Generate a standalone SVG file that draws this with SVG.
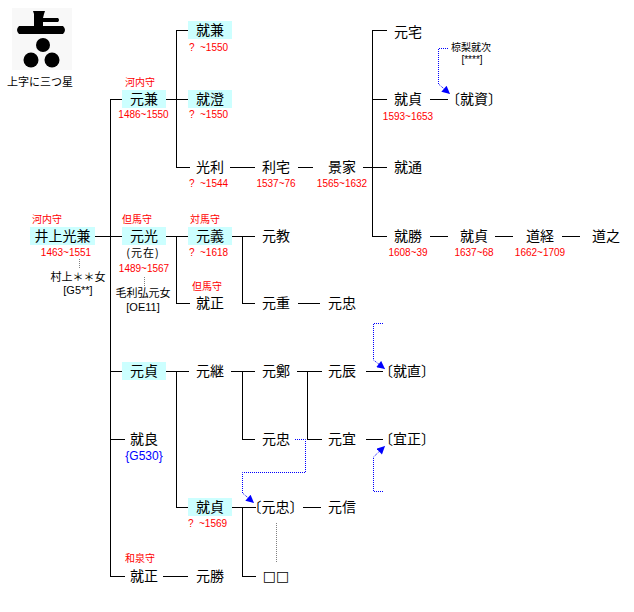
<svg xmlns="http://www.w3.org/2000/svg" width="634" height="612" viewBox="0 0 634 612">
<defs>
<style>
.n{font-family:"Noto Sans CJK JP","Noto Sans CJK SC",sans-serif;font-size:14px;text-anchor:middle;fill:#000}
.d{font-family:"Liberation Sans",Arial,sans-serif;font-size:10px;fill:#f00;text-anchor:middle}
.ds{font-family:"Liberation Sans",Arial,sans-serif;font-size:10px;fill:#f00}
.t{font-family:"Noto Sans CJK JP",sans-serif;font-size:10px;fill:#f00}
.s{font-family:"Noto Sans CJK JP",sans-serif;font-size:11px;fill:#000;text-anchor:middle}
.sm{font-family:"Liberation Sans",Arial,sans-serif;font-size:11px;fill:#000;text-anchor:middle}
.b{fill:#ccffff}
.ln{stroke:#000;stroke-width:1;fill:none}
.bd{stroke:#0000ff;stroke-width:1;stroke-dasharray:1 1;fill:none}
.gd{stroke:#808080;stroke-width:1;stroke-dasharray:1 1;fill:none}
</style>
<marker id="arr" viewBox="0 0 10 10" refX="10" refY="5" markerWidth="9" markerHeight="8" markerUnits="userSpaceOnUse" orient="auto">
<path d="M0,0 L10,5 L0,10 z" fill="#0000ff"/>
</marker>
</defs>
<rect width="634" height="612" fill="#fff"/>

<g id="crest">
<rect x="12" y="8" width="60" height="62" fill="#f8f8f8"/>
<path d="M33,11 L45,11 L44,14 L43,18 L58,18 Q60,20 58,22 L43,22 L43,26 L63,26 Q67,30 63,34 L19,34 Q15,30 19,26 L34,26 L34,14 Z" fill="#000"/>
<circle cx="43" cy="45" r="7" fill="#000"/>
<circle cx="31" cy="60" r="7.5" fill="#000"/>
<circle cx="52" cy="60" r="7.5" fill="#000"/>
<text x="40" y="86" class="s">上字に三つ星</text>
</g>

<g id="connectors">
<path class="ln" d="M110.5,99 V576"/>
<path class="ln" d="M176.5,30 V167 M176.5,236 V303 M176.5,371 V507"/>
<path class="ln" d="M242.5,236 V303 M242.5,371 V439 M242.5,507 V576"/>
<path class="ln" d="M307.5,371 V439"/>
<path class="ln" d="M372.5,30 V236"/>
<path class="ln" d="M176,30.5 H188 M372,30.5 H387"/>
<path class="ln" d="M110,99.5 H122 M166,99.5 H188 M372,99.5 H387 M430,99.5 H448"/>
<path class="ln" d="M176,167.5 H190 M230,167.5 H255 M298,167.5 H313 M363,167.5 H387"/>
<path class="ln" d="M95,236.5 H122 M166,236.5 H188 M232,236.5 H255 M372,236.5 H387 M430,236.5 H448 M495,236.5 H513 M562,236.5 H580"/>
<path class="ln" d="M176,303.5 H190 M242,303.5 H255 M298,303.5 H320"/>
<path class="ln" d="M110,371.5 H122 M166,371.5 H189 M231,371.5 H255 M297,371.5 H322 M366,371.5 H383"/>
<path class="ln" d="M110,439.5 H125 M242,439.5 H255 M307,439.5 H322 M366,439.5 H383"/>
<path class="ln" d="M176,507.5 H188 M232,507.5 H256 M303,507.5 H321"/>
<path class="ln" d="M110,576.5 H125 M163,576.5 H188 M242,576.5 H256"/>
<path class="gd" d="M79.5,259 V268 M144.5,277 V286 M276.5,523 V562"/>
<path class="bd" d="M448,48.5 H438.5 V84 L450,94" marker-end="url(#arr)"/>
<path class="bd" d="M383,323.5 H373.5 V360 L385,369" marker-end="url(#arr)"/>
<path class="bd" d="M383,491.5 H373.5 V457 L385,446" marker-end="url(#arr)"/>
<path class="bd" d="M295,439.5 H305.5 V472.5 H242.5 V493 L254,503" marker-end="url(#arr)"/>
</g>

<g id="n-mitsukane">
<rect class="b" x="30" y="227" width="65" height="18"/>
<text class="n" x="62.5" y="241">井上光兼</text>
<text class="t" x="32" y="223">河内守</text>
<text class="d" x="66" y="256">1463~1551</text>
<text class="s" x="78" y="281">村上＊＊女</text>
<text class="sm" x="78" y="294">[G5**]</text>
</g>
<g id="n-motokane">
<rect class="b" x="122" y="90" width="44" height="18"/>
<text class="n" x="144" y="104">元兼</text>
<text class="t" x="125" y="86">河内守</text>
<text class="d" x="143.5" y="118">1486~1550</text>
</g>
<g id="n-narikane">
<rect class="b" x="188" y="21" width="44" height="18"/>
<text class="n" x="210" y="35">就兼</text>
<text class="ds" x="189" y="51">?<tspan x="200">~1550</tspan></text>
</g>
<g id="n-narizumi">
<rect class="b" x="188" y="90" width="44" height="18"/>
<text class="n" x="210" y="104">就澄</text>
<text class="ds" x="189" y="118">?<tspan x="200">~1550</tspan></text>
</g>
<g id="n-mitsutoshi">
<text class="n" x="210" y="172">光利</text>
<text class="ds" x="189" y="187">?<tspan x="200">~1544</tspan></text>
</g>
<g id="n-toshiie">
<text class="n" x="276" y="172">利宅</text>
<text class="d" x="276" y="187">1537~76</text>
</g>
<g id="n-kageie">
<text class="n" x="342" y="172">景家</text>
<text class="d" x="342" y="187">1565~1632</text>
</g>
<g id="n-motoie">
<text class="n" x="408" y="37">元宅</text>
</g>
<g id="n-narisada1">
<text class="n" x="408" y="104">就貞</text>
<text class="d" x="408" y="120">1593~1653</text>
</g>
<g id="n-narisuke">
<text class="n" x="474" y="104">〔就資〕</text>
</g>
<g id="n-mukunashi">
<text class="s" x="471" y="50.5" style="font-size:10px">椋梨就次</text>
<text class="sm" x="472" y="63" style="font-size:10px">[****]</text>
</g>
<g id="n-narimichi">
<text class="n" x="408" y="172">就通</text>
</g>
<g id="n-motomitsu">
<rect class="b" x="122" y="227" width="44" height="18"/>
<text class="n" x="144" y="241">元光</text>
<text class="t" x="122" y="223">但馬守</text>
<text class="s" x="143" y="257" style="letter-spacing:1px">(元在)</text>
<text class="d" x="144" y="272">1489~1567</text>
<text class="s" x="143" y="297">毛利弘元女</text>
<text class="sm" x="143" y="311">[OE11]</text>
</g>
<g id="n-motoyoshi">
<rect class="b" x="188" y="227" width="44" height="18"/>
<text class="n" x="210" y="241">元義</text>
<text class="t" x="190" y="223">対馬守</text>
<text class="ds" x="189" y="256">?<tspan x="200">~1618</tspan></text>
</g>
<g id="n-motonori">
<text class="n" x="276" y="241">元教</text>
</g>
<g id="n-narikatsu">
<text class="n" x="408" y="241">就勝</text>
<text class="d" x="408" y="256">1608~39</text>
</g>
<g id="n-narisada2">
<text class="n" x="474" y="241">就貞</text>
<text class="d" x="474" y="256">1637~68</text>
</g>
<g id="n-michitsune">
<text class="n" x="540" y="241">道経</text>
<text class="d" x="540" y="256">1662~1709</text>
</g>
<g id="n-michiyuki">
<text class="n" x="606" y="241">道之</text>
</g>
<g id="n-narimasa1">
<text class="n" x="210" y="308">就正</text>
<text class="t" x="192" y="290">但馬守</text>
</g>
<g id="n-motoshige">
<text class="n" x="276" y="308">元重</text>
</g>
<g id="n-mototada1">
<text class="n" x="342" y="308">元忠</text>
</g>
<g id="n-motosada">
<rect class="b" x="122" y="362" width="44" height="18"/>
<text class="n" x="144" y="376">元貞</text>
</g>
<g id="n-mototsugu">
<text class="n" x="210" y="376">元継</text>
</g>
<g id="n-moto-tei">
<text class="n" x="276" y="376">元鄭</text>
</g>
<g id="n-mototoki">
<text class="n" x="342" y="376">元辰</text>
</g>
<g id="n-narinao">
<text class="n" x="407" y="376">〔就直〕</text>
</g>
<g id="n-nariyoshi">
<text class="n" x="144" y="444">就良</text>
<text class="sm" x="144" y="460" style="fill:#0000ff;font-size:12px">{G530}</text>
</g>
<g id="n-mototada2">
<text class="n" x="276" y="444">元忠</text>
</g>
<g id="n-motonobu-gi">
<text class="n" x="342" y="444">元宜</text>
</g>
<g id="n-yoshimasa">
<text class="n" x="407" y="444">〔宜正〕</text>
</g>
<g id="n-narisada3">
<rect class="b" x="188" y="498" width="44" height="18"/>
<text class="n" x="210" y="512">就貞</text>
<text class="ds" x="188" y="527">?<tspan x="199">~1569</tspan></text>
</g>
<g id="n-mototada3">
<text class="n" x="275.5" y="512">〔元忠〕</text>
</g>
<g id="n-motonobu">
<text class="n" x="342" y="512">元信</text>
</g>
<g id="n-narimasa2">
<text class="n" x="144" y="581">就正</text>
<text class="t" x="125" y="562">和泉守</text>
</g>
<g id="n-motokatsu">
<text class="n" x="210" y="581">元勝</text>
</g>
<g id="n-unknown">
<text x="276" y="581" style="font-family:'DejaVu Sans',sans-serif;font-size:14px;text-anchor:middle;fill:#000">□□</text>
</g>
</svg>
